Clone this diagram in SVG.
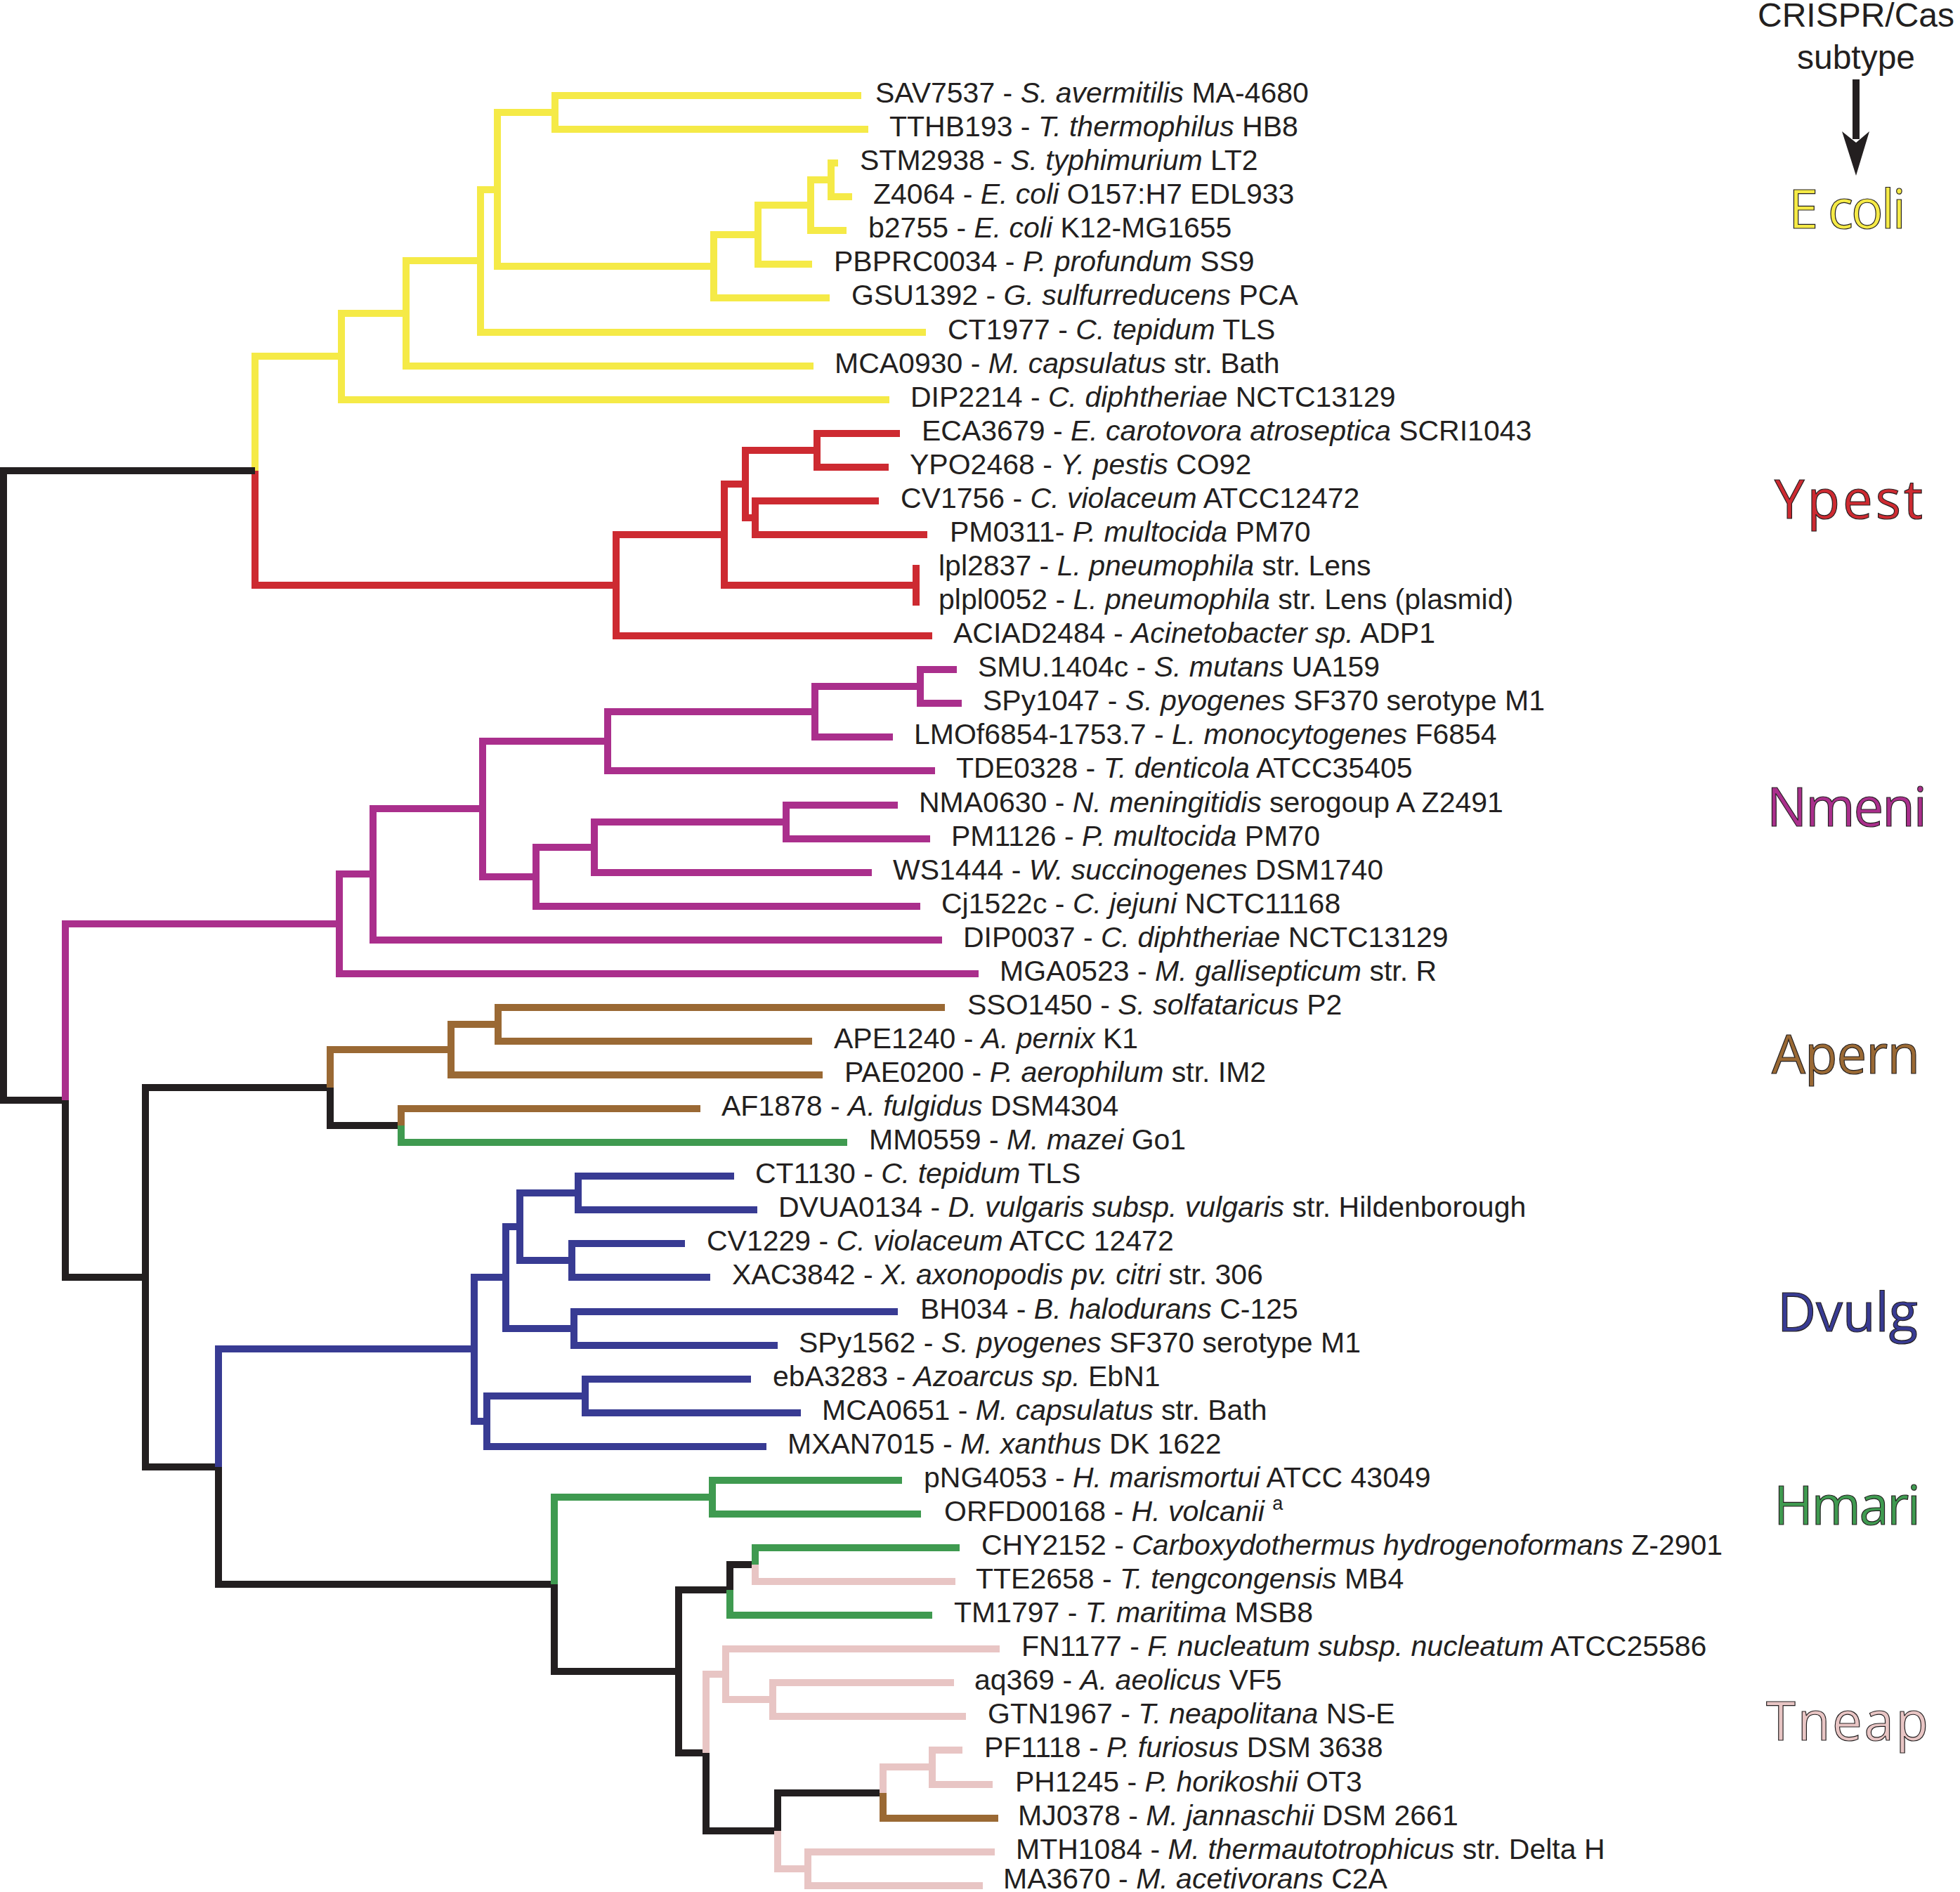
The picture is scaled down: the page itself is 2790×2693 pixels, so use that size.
<svg xmlns="http://www.w3.org/2000/svg" width="2790" height="2693" viewBox="0 0 2790 2693">
<style>
.bg{fill:#ffffff}
.e{fill:none;stroke-width:10;stroke-linejoin:miter;stroke-linecap:butt}
.y{stroke:#f5ea47}.r{stroke:#cd2a31}.k{stroke:#231f20}.p{stroke:#aa2f8c}
.br{stroke:#9a6934}.g{stroke:#3f9a50}.bl{stroke:#383b93}.pk{stroke:#e8c5c4}
.lbl{font-family:"Liberation Sans",Arial,sans-serif;font-size:41px;fill:#231f20}
.it{font-style:italic}
.sup{font-size:27px}
.hd{font-family:"Liberation Sans",Arial,sans-serif;font-size:48px;fill:#231f20}
.cl{font-family:"Open Sans","Noto Sans",sans-serif;font-size:76px;stroke:#231f20;stroke-width:1.2}
</style>
<rect class="bg" x="0" y="0" width="2790" height="2693"/>
<g id="connectors">
<g class="e y">
<path d="M1226 136H790V160"/><path d="M1236 184H790V160"/>
<path d="M1193 232H1183V256"/><path d="M1213 280H1183V256"/>
<path d="M1183 256H1154V292"/><path d="M1205 328H1154V292"/>
<path d="M1154 292H1079V334"/><path d="M1156 376H1079V334"/>
<path d="M1079 334H1016V379"/><path d="M1181 424H1016V379"/>
<path d="M790 160H708V270"/><path d="M1016 379H708V270"/>
<path d="M708 270H684V371"/><path d="M1318 473H684V371"/>
<path d="M684 371H578V446"/><path d="M1158 521H578V446"/>
<path d="M578 446H486V507"/><path d="M1266 569H486V507"/>
<path d="M486 507H363V670"/>
</g>
<g class="e r">
<path d="M1281 617H1163V641"/><path d="M1265 665H1163V641"/>
<path d="M1251 713H1075V737"/><path d="M1320 761H1075V737"/>
<path d="M1163 641H1061V689"/><path d="M1075 737H1061V689"/>
<path d="M1061 689H1031V761"/><path d="M1304 833H1031V761"/>
<path d="M1304 804V862"/>
<path d="M1031 761H877V833"/><path d="M1327 905H877V833"/>
<path d="M877 833H363V670"/>
</g>
<g class="e k">
<path d="M363 670H5V1118"/><path d="M93 1566H5V1118"/>
<path d="M207 1818H93V1566"/>
<path d="M470 1548H207V1818"/><path d="M311 2088H207V1818"/>
<path d="M571 1602H470V1548"/>
<path d="M789 2255H311V2088"/>
<path d="M966 2379H789V2255"/>
<path d="M1075 2227H1039V2263"/>
<path d="M1039 2263H966V2379"/><path d="M1005 2495H966V2379"/>
<path d="M1107 2606H1005V2495"/>
<path d="M1257 2552H1107V2606"/>
</g>
<g class="e p">
<path d="M1362 953H1310V977"/><path d="M1369 1001H1310V977"/>
<path d="M1310 977H1160V1013"/><path d="M1271 1049H1160V1013"/>
<path d="M1160 1013H865V1055"/><path d="M1331 1097H865V1055"/>
<path d="M1278 1146H1119V1170"/><path d="M1324 1194H1119V1170"/>
<path d="M1119 1170H846V1206"/><path d="M1241 1242H846V1206"/>
<path d="M846 1206H763V1248"/><path d="M1310 1290H763V1248"/>
<path d="M865 1055H687V1151"/><path d="M763 1248H687V1151"/>
<path d="M687 1151H531V1244"/><path d="M1341 1338H531V1244"/>
<path d="M531 1244H483V1315"/><path d="M1393 1386H483V1315"/>
<path d="M483 1315H93V1566"/>
</g>
<g class="e br">
<path d="M1345 1434H709V1458"/><path d="M1156 1482H709V1458"/>
<path d="M709 1458H642V1494"/><path d="M1171 1530H642V1494"/>
<path d="M642 1494H470V1548"/>
<path d="M997 1578H571V1602"/>
<path d="M1421 2588H1257V2552"/>
</g>
<g class="e g">
<path d="M1206 1626H571V1602"/>
<path d="M1284 2107H1014V2131"/><path d="M1311 2155H1014V2131"/>
<path d="M1014 2131H789V2255"/>
<path d="M1366 2203H1075V2227"/>
<path d="M1327 2299H1039V2263"/>
</g>
<g class="e bl">
<path d="M1045 1674H823V1698"/><path d="M1078 1722H823V1698"/>
<path d="M975 1770H814V1794"/><path d="M1011 1818H814V1794"/>
<path d="M823 1698H740V1746"/><path d="M814 1794H740V1746"/>
<path d="M1278 1867H817V1891"/><path d="M1107 1915H817V1891"/>
<path d="M740 1746H720V1818"/><path d="M817 1891H720V1818"/>
<path d="M1069 1963H833V1987"/><path d="M1140 2011H833V1987"/>
<path d="M833 1987H693V2023"/><path d="M1091 2059H693V2023"/>
<path d="M720 1818H675V1920"/><path d="M693 2023H675V1920"/>
<path d="M675 1920H311V2088"/>
</g>
<g class="e pk">
<path d="M1360 2251H1075V2227"/>
<path d="M1358 2395H1100V2419"/><path d="M1375 2443H1100V2419"/>
<path d="M1423 2347H1033V2383"/><path d="M1100 2419H1033V2383"/>
<path d="M1033 2383H1005V2495"/>
<path d="M1370 2491H1327V2515"/><path d="M1413 2540H1327V2515"/>
<path d="M1327 2515H1257V2552"/>
<path d="M1416 2636H1150V2660"/><path d="M1399 2684H1150V2660"/>
<path d="M1150 2660H1107V2606"/>
</g>
</g>
<g id="leaves" class="lbl">
<g id="n-SAV7537"><text x="1246" y="146">SAV7537 - <tspan class="it">S. avermitilis</tspan> MA-4680</text></g>
<g id="n-TTHB193"><text x="1266" y="194">TTHB193 - <tspan class="it">T. thermophilus</tspan> HB8</text></g>
<g id="n-STM2938"><text x="1224" y="242">STM2938 - <tspan class="it">S. typhimurium</tspan> LT2</text></g>
<g id="n-Z4064"><text x="1243" y="290">Z4064 - <tspan class="it">E. coli</tspan> O157:H7 EDL933</text></g>
<g id="n-b2755"><text x="1236" y="338">b2755 - <tspan class="it">E. coli</tspan> K12-MG1655</text></g>
<g id="n-PBPRC0034"><text x="1187" y="386">PBPRC0034 - <tspan class="it">P. profundum</tspan> SS9</text></g>
<g id="n-GSU1392"><text x="1212" y="434">GSU1392 - <tspan class="it">G. sulfurreducens</tspan> PCA</text></g>
<g id="n-CT1977"><text x="1349" y="483">CT1977 - <tspan class="it">C. tepidum</tspan> TLS</text></g>
<g id="n-MCA0930"><text x="1188" y="531">MCA0930 - <tspan class="it">M. capsulatus</tspan> str. Bath</text></g>
<g id="n-DIP2214"><text x="1296" y="579">DIP2214 - <tspan class="it">C. diphtheriae</tspan> NCTC13129</text></g>
<g id="n-ECA3679"><text x="1312" y="627">ECA3679 - <tspan class="it">E. carotovora atroseptica</tspan> SCRI1043</text></g>
<g id="n-YPO2468"><text x="1295" y="675">YPO2468 - <tspan class="it">Y. pestis</tspan> CO92</text></g>
<g id="n-CV1756"><text x="1282" y="723">CV1756 - <tspan class="it">C. violaceum</tspan> ATCC12472</text></g>
<g id="n-PM0311"><text x="1352" y="771">PM0311- <tspan class="it">P. multocida</tspan> PM70</text></g>
<g id="n-lpl2837"><text x="1336" y="819">lpl2837 - <tspan class="it">L. pneumophila</tspan> str. Lens</text></g>
<g id="n-plpl0052"><text x="1336" y="867">plpl0052 - <tspan class="it">L. pneumophila</tspan> str. Lens (plasmid)</text></g>
<g id="n-ACIAD2484"><text x="1357" y="915">ACIAD2484 - <tspan class="it">Acinetobacter sp.</tspan> ADP1</text></g>
<g id="n-SMU1404c"><text x="1392" y="963">SMU.1404c - <tspan class="it">S. mutans</tspan> UA159</text></g>
<g id="n-SPy1047"><text x="1399" y="1011">SPy1047 - <tspan class="it">S. pyogenes</tspan> SF370 serotype M1</text></g>
<g id="n-LMOf6854"><text x="1301" y="1059">LMOf6854-1753.7 - <tspan class="it">L. monocytogenes</tspan> F6854</text></g>
<g id="n-TDE0328"><text x="1361" y="1107">TDE0328 - <tspan class="it">T. denticola</tspan> ATCC35405</text></g>
<g id="n-NMA0630"><text x="1308" y="1156">NMA0630 - <tspan class="it">N. meningitidis</tspan> serogoup A Z2491</text></g>
<g id="n-PM1126"><text x="1354" y="1204">PM1126 - <tspan class="it">P. multocida</tspan> PM70</text></g>
<g id="n-WS1444"><text x="1271" y="1252">WS1444 - <tspan class="it">W. succinogenes</tspan> DSM1740</text></g>
<g id="n-Cj1522c"><text x="1340" y="1300">Cj1522c - <tspan class="it">C. jejuni</tspan> NCTC11168</text></g>
<g id="n-DIP0037"><text x="1371" y="1348">DIP0037 - <tspan class="it">C. diphtheriae</tspan> NCTC13129</text></g>
<g id="n-MGA0523"><text x="1423" y="1396">MGA0523 - <tspan class="it">M. gallisepticum</tspan> str. R</text></g>
<g id="n-SSO1450"><text x="1377" y="1444">SSO1450 - <tspan class="it">S. solfataricus</tspan> P2</text></g>
<g id="n-APE1240"><text x="1187" y="1492">APE1240 - <tspan class="it">A. pernix</tspan> K1</text></g>
<g id="n-PAE0200"><text x="1202" y="1540">PAE0200 - <tspan class="it">P. aerophilum</tspan> str. IM2</text></g>
<g id="n-AF1878"><text x="1027" y="1588">AF1878 - <tspan class="it">A. fulgidus</tspan> DSM4304</text></g>
<g id="n-MM0559"><text x="1237" y="1636">MM0559 - <tspan class="it">M. mazei</tspan> Go1</text></g>
<g id="n-CT1130"><text x="1075" y="1684">CT1130 - <tspan class="it">C. tepidum</tspan> TLS</text></g>
<g id="n-DVUA0134"><text x="1108" y="1732">DVUA0134 - <tspan class="it">D. vulgaris subsp. vulgaris</tspan> str. Hildenborough</text></g>
<g id="n-CV1229"><text x="1006" y="1780">CV1229 - <tspan class="it">C. violaceum</tspan> ATCC 12472</text></g>
<g id="n-XAC3842"><text x="1042" y="1828">XAC3842 - <tspan class="it">X. axonopodis pv. citri</tspan> str. 306</text></g>
<g id="n-BH034"><text x="1310" y="1877">BH034 - <tspan class="it">B. halodurans</tspan> C-125</text></g>
<g id="n-SPy1562"><text x="1137" y="1925">SPy1562 - <tspan class="it">S. pyogenes</tspan> SF370 serotype M1</text></g>
<g id="n-ebA3283"><text x="1100" y="1973">ebA3283 - <tspan class="it">Azoarcus sp.</tspan> EbN1</text></g>
<g id="n-MCA0651"><text x="1170" y="2021">MCA0651 - <tspan class="it">M. capsulatus</tspan> str. Bath</text></g>
<g id="n-MXAN7015"><text x="1121" y="2069">MXAN7015 - <tspan class="it">M. xanthus</tspan> DK 1622</text></g>
<g id="n-pNG4053"><text x="1315" y="2117">pNG4053 - <tspan class="it">H. marismortui</tspan> ATCC 43049</text></g>
<g id="n-ORFD00168"><text x="1344" y="2165">ORFD00168 - <tspan class="it">H. volcanii</tspan> <tspan class="sup" dy="-16">a</tspan></text></g>
<g id="n-CHY2152"><text x="1397" y="2213">CHY2152 - <tspan class="it">Carboxydothermus hydrogenoformans</tspan> Z-2901</text></g>
<g id="n-TTE2658"><text x="1389" y="2261">TTE2658 - <tspan class="it">T. tengcongensis</tspan> MB4</text></g>
<g id="n-TM1797"><text x="1358" y="2309">TM1797 - <tspan class="it">T. maritima</tspan> MSB8</text></g>
<g id="n-FN1177"><text x="1454" y="2357">FN1177 - <tspan class="it">F. nucleatum subsp. nucleatum</tspan> ATCC25586</text></g>
<g id="n-aq369"><text x="1387" y="2405">aq369 - <tspan class="it">A. aeolicus</tspan> VF5</text></g>
<g id="n-GTN1967"><text x="1406" y="2453">GTN1967 - <tspan class="it">T. neapolitana</tspan> NS-E</text></g>
<g id="n-PF1118"><text x="1401" y="2501">PF1118 - <tspan class="it">P. furiosus</tspan> DSM 3638</text></g>
<g id="n-PH1245"><text x="1445" y="2550">PH1245 - <tspan class="it">P. horikoshii</tspan> OT3</text></g>
<g id="n-MJ0378"><text x="1449" y="2598">MJ0378 - <tspan class="it">M. jannaschii</tspan> DSM 2661</text></g>
<g id="n-MTH1084"><text x="1446" y="2646">MTH1084 - <tspan class="it">M. thermautotrophicus</tspan> str. Delta H</text></g>
<g id="n-MA3670"><text x="1428" y="2688">MA3670 - <tspan class="it">M. acetivorans</tspan> C2A</text></g>
</g>
<g id="legend">
<text class="hd" x="2642" y="38" text-anchor="middle">CRISPR/Cas</text>
<text class="hd" x="2642" y="98" text-anchor="middle">subtype</text>
<rect x="2637" y="113" width="10" height="85" fill="#231f20"/>
<polygon points="2622,187 2642,250 2661,187 2642,203" fill="#231f20"/>
</g>
<g id="clades" class="cl">
<g id="c-Ecoli"><text x="2546" y="325" fill="#f5ea47" textLength="167" lengthAdjust="spacing">E coli</text></g>
<g id="c-Ypest"><text x="2526" y="738" fill="#cd2a31" textLength="211" lengthAdjust="spacing">Ypest</text></g>
<g id="c-Nmeni"><text x="2515" y="1176" fill="#aa2f8c" textLength="228" lengthAdjust="spacing">Nmeni</text></g>
<g id="c-Apern"><text x="2522" y="1528" fill="#9a6934" textLength="211" lengthAdjust="spacing">Apern</text></g>
<g id="c-Dvulg"><text x="2530" y="1895" fill="#383b93" textLength="200" lengthAdjust="spacing">Dvulg</text></g>
<g id="c-Hmari"><text x="2525" y="2170" fill="#3f9a50" textLength="209" lengthAdjust="spacing">Hmari</text></g>
<g id="c-Tneap"><text x="2514" y="2477" fill="#e8c5c4" textLength="231" lengthAdjust="spacing">Tneap</text></g>
</g>
</svg>
